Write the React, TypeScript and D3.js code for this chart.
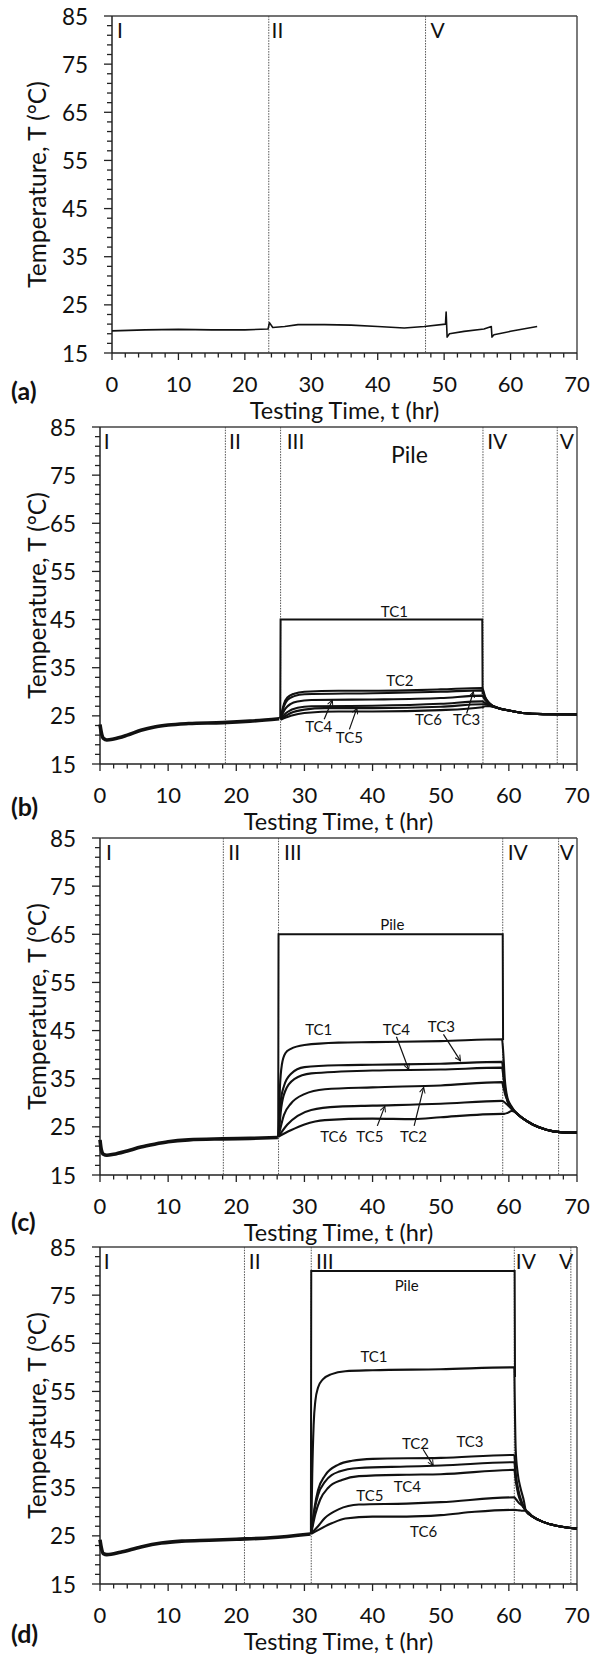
import React from 'react';
import * as d3 from 'd3';

type P = [number, number];

// ---------- axis ticks ----------
const xTicks = [0, 10, 20, 30, 40, 50, 60, 70];
const yTicks = [15, 25, 35, 45, 55, 65, 75, 85];
const xMinor = [0, 2, 4, 6, 8, 10, 12, 14, 16, 18, 20, 22, 24, 26, 28, 30, 32, 34, 36, 38, 40, 42, 44, 46, 48, 50, 52, 54, 56, 58, 60, 62, 64, 66, 68, 70];
const yMinor = [15, 17, 19, 21, 23, 25, 27, 29, 31, 33, 35, 37, 39, 41, 43, 45, 47, 49, 51, 53, 55, 57, 59, 61, 63, 65, 67, 69, 71, 73, 75, 77, 79, 81, 83, 85];

// ---------- panel (a) ----------
const seriesA: P[] = [[0, 19.6], [5, 19.8], [10, 19.9], [15, 19.8], [20, 19.8], [23.5, 20.0], [23.7, 21.3], [24.2, 20.3], [26, 20.5], [28, 20.9], [32, 20.9], [36, 20.8], [40, 20.5], [44, 20.2], [47, 20.5], [50.2, 21.0], [50.3, 23.5], [50.45, 18.3], [50.8, 19.0], [53, 19.5], [56, 20.0], [57.1, 20.5], [57.2, 18.3], [57.5, 18.8], [60, 19.5], [64, 20.5]];
const phasesA = [23.6, 47.2];
const phaseNamesA = ['I', 'II', 'V'];
const phaseLabelTA = [1.2, 24.9, 49];

// ---------- panel (b) ----------
const preB: P[] = [[0, 23.2], [0.2, 21.5], [0.5, 20.3], [1, 20.0], [2, 20.2], [4, 21.0], [6, 22.0], [8, 22.7], [10, 23.1], [13, 23.4], [18, 23.6], [22, 23.9], [26.3, 24.4]];
const postB: P[] = [[58.5, 26.6], [60, 26.1], [62, 25.6], [65, 25.35], [70, 25.3]];
const tc2B: P[] = [[26.5, 24.5], [27, 27.5], [27.5, 28.8], [28.5, 29.6], [30, 30.0], [35, 30.2], [40, 30.2], [45, 30.3], [50, 30.5], [56.1, 30.8], [56.5, 29.0], [57.2, 27.6]];
const tc3B: P[] = [[26.5, 24.5], [27, 27], [27.5, 28.3], [28.5, 29.1], [30, 29.5], [40, 29.7], [50, 30.0], [56.1, 30.3], [56.5, 28.8], [57.2, 27.5]];
const tc4B: P[] = [[26.5, 24.5], [27.2, 26.5], [28, 27.5], [29, 28.0], [31, 28.3], [40, 28.4], [50, 28.7], [56.1, 29.2], [56.5, 28.3], [57.2, 27.4]];
const tcxB: P[] = [[26.5, 24.4], [27.5, 25.8], [29, 26.7], [31, 27.0], [40, 27.1], [50, 27.5], [56.1, 28.0], [56.5, 27.7], [57.2, 27.2]];
const tc5B: P[] = [[26.5, 24.3], [28, 25.6], [30, 26.3], [33, 26.6], [40, 26.6], [50, 26.9], [56.1, 27.4], [56.5, 27.4], [57.2, 27.1]];
const tc6B: P[] = [[26.5, 24.2], [28, 25.0], [30, 25.6], [35, 25.9], [40, 25.9], [50, 26.2], [56.1, 26.8], [56.5, 27.0], [57.2, 27.0]];
const pileB: P[] = [[26.45, 24.4], [26.5, 45], [56.1, 45], [56.15, 29.5]];
const phasesB = [18.4, 26.5, 56.2, 67.1];
const phaseNamesB = ['I', 'II', 'III', 'IV', 'V'];
const phaseLabelTB = [1.0, 19.8, 28.7, 58.3, 68.5];

// ---------- panel (c) ----------
const preC: P[] = [[0, 22.3], [0.2, 20.2], [0.5, 19.3], [1, 19.1], [2, 19.3], [4, 20.0], [6, 20.8], [8, 21.4], [10, 21.9], [13, 22.3], [18, 22.5], [22, 22.6], [26.1, 22.8]];
const postC: P[] = [[61, 28.0], [62, 26.8], [63.5, 25.5], [65.5, 24.4], [67.5, 23.9], [70, 23.8]];
const tc1C: P[] = [[26.2, 23], [26.4, 33], [26.7, 38], [27.2, 40.3], [28, 41.2], [30, 42.0], [35, 42.5], [40, 42.6], [50, 42.8], [59, 43.2], [59.15, 41], [59.4, 35], [59.8, 31], [60.4, 29.2]];
const tc3C: P[] = [[26.2, 23], [26.5, 30], [27, 33.5], [28, 36], [30, 37.4], [35, 37.8], [40, 37.9], [50, 38.1], [59, 38.5], [59.15, 37], [59.4, 33.5], [59.8, 30.5], [60.4, 29.0]];
const tc4C: P[] = [[26.2, 23], [26.6, 29], [27.2, 32.5], [28.5, 34.9], [31, 36.1], [40, 36.7], [50, 36.9], [59, 37.3], [59.15, 36], [59.4, 33], [59.8, 30.3], [60.4, 28.9]];
const tc2C: P[] = [[26.2, 23], [27, 27.5], [28, 29.8], [30, 31.8], [33, 32.8], [40, 33.2], [50, 33.6], [59, 34.3], [59.15, 33.5], [59.5, 31.5], [60, 30], [60.4, 28.8]];
const tc5C: P[] = [[26.2, 23], [27.5, 25.5], [29, 27.3], [31, 28.5], [35, 29.2], [40, 29.4], [50, 29.8], [59, 30.4], [59.2, 30.3], [59.6, 29.8], [60, 29.3], [60.4, 28.7]];
const tc6C: P[] = [[26.2, 23], [28, 24.3], [30, 25.5], [33, 26.4], [40, 26.7], [46, 26.6], [50, 27.0], [59, 27.7], [59.3, 27.7], [59.8, 27.9], [60.4, 28.3]];
const pileC: P[] = [[26.15, 22.8], [26.2, 65], [59.1, 65], [59.15, 43]];
const phasesC = [18.1, 26.2, 59.1, 67.3];
const phaseNamesC = ['I', 'II', 'III', 'IV', 'V'];
const phaseLabelTC = [1.3, 19.7, 28.3, 61.3, 68.5];

// ---------- panel (d) ----------
const preD: P[] = [[0, 24.2], [0.2, 22.5], [0.5, 21.3], [1, 21.1], [3, 21.6], [6, 22.7], [9, 23.5], [12, 23.9], [16, 24.1], [20, 24.3], [25, 24.6], [30.9, 25.4]];
const postD: P[] = [[62.5, 30.2], [63.5, 29.0], [65, 27.9], [67, 27.1], [70, 26.5]];
const tc1D: P[] = [[31, 25.5], [31.15, 38], [31.35, 48], [31.6, 53], [32, 55.8], [32.7, 57.5], [34, 58.6], [36, 59.2], [40, 59.4], [50, 59.6], [60.8, 60.0], [60.85, 55], [61.0, 43], [61.3, 38], [61.7, 35], [62.2, 32.3]];
const tc3D: P[] = [[31, 25.5], [31.5, 31], [32, 34.5], [33, 37.5], [35, 39.8], [37, 40.6], [40, 41.0], [50, 41.2], [60.8, 41.8], [61, 38], [61.4, 34.5], [61.9, 32]];
const tc2D: P[] = [[31, 25.5], [31.5, 30.5], [32, 33.5], [33, 36.2], [35, 38.3], [38, 39.1], [45, 39.4], [50, 39.6], [60.8, 40.3], [61, 37.5], [61.4, 34], [61.9, 31.8]];
const tc4D: P[] = [[31, 25.5], [31.6, 29.5], [32.3, 32.5], [33.5, 35], [35.5, 36.6], [38, 37.4], [45, 37.7], [50, 37.8], [60.8, 38.7], [61, 36.5], [61.4, 33.5], [61.9, 31.7]];
const tc5D: P[] = [[31, 25.5], [32, 27], [33, 28.7], [35, 30.5], [38, 31.5], [45, 31.7], [50, 32.0], [60.8, 33.0], [61.1, 32.5], [61.5, 31.8], [62, 31.2]];
const tc6D: P[] = [[31, 25.4], [32, 26.2], [34, 27.6], [36, 28.6], [40, 29.0], [45, 29.0], [50, 29.3], [55, 30.0], [60.8, 30.4], [61.5, 30.3], [62, 30.2]];
const pileD: P[] = [[30.95, 25.4], [31.0, 80], [60.85, 80], [60.9, 58]];
const phasesD = [21.2, 31.0, 60.8, 69.1];
const phaseNamesD = ['I', 'II', 'III', 'IV', 'V'];
const phaseLabelTD = [1.0, 22.7, 33.0, 62.5, 68.4];

// ---------- annotations: [text, t, T, size] ----------
type Lab = [string, number, number, number];
type Arr = [number, number, number, number];
const labelsB: Lab[] = [['Pile', 45.4, 79.3, 23], ['TC1', 43.2, 46.7, 15], ['TC2', 44, 32.4, 15], ['TC4', 32.1, 22.8, 15], ['TC5', 36.6, 20.7, 15], ['TC6', 48.2, 24.3, 15], ['TC3', 53.8, 24.3, 15]];
const arrowsB: Arr[] = [[32.9, 24.3, 34.1, 28.3], [36.6, 22.2, 37.7, 26.6], [53.8, 25.5, 54.8, 30.0]];
const labelsC: Lab[] = [['Pile', 42.9, 67.2, 15], ['TC1', 32.1, 45.3, 15], ['TC4', 43.5, 45.3, 15], ['TC3', 50.1, 46.0, 15], ['TC6', 34.3, 23.1, 15], ['TC5', 39.6, 23.1, 15], ['TC2', 46.0, 23.1, 15]];
const arrowsC: Arr[] = [[43.5, 43.7, 45.3, 36.9], [50.4, 44.2, 52.9, 38.7], [40.7, 25.2, 41.8, 29.3], [46.1, 25.2, 47.5, 33.2]];
const labelsD: Lab[] = [['Pile', 45.0, 77.2, 15], ['TC1', 40.2, 62.3, 15], ['TC2', 46.3, 44.2, 15], ['TC3', 54.3, 44.6, 15], ['TC4', 45.1, 35.4, 15], ['TC5', 39.6, 33.5, 15], ['TC6', 47.5, 26.0, 15]];
const arrowsD: Arr[] = [[47.4, 43.0, 48.9, 39.6]];

const FONT = 'Lato, "Open Sans", sans-serif';
const INK = '#111';

type PanelProps = {
  top: number; left: number; letter: string; letterDy: number;
  series: P[][]; pre?: P[]; pile?: P[]; linear?: boolean; lineW: number;
  phases: number[]; phaseNames: string[]; phaseLabelT: number[];
  labels: Lab[]; arrows: Arr[];
};

const RIGHT = 577;
const PH = 337;

function Panel(p: PanelProps) {
  const x = d3.scaleLinear().domain([0, 70]).range([p.left, RIGHT]);
  const y = d3.scaleLinear().domain([15, 85]).range([p.top + PH, p.top]);
  const smooth = d3.line<P>().x(d => x(d[0])).y(d => y(d[1])).curve(p.linear ? d3.curveLinear : d3.curveMonotoneX);
  const lin = d3.line<P>().x(d => x(d[0])).y(d => y(d[1]));
  const bottom = p.top + PH;
  return (
    <g>
      {p.phases.map((t, i) => (
        <line key={'ph' + i} x1={x(t)} x2={x(t)} y1={p.top} y2={bottom} stroke="#555" strokeWidth={1} strokeDasharray="1.5 1.2" />
      ))}
      <line x1={p.left} x2={RIGHT} y1={p.top} y2={p.top} stroke="#444" strokeWidth={1.4} />
      <line x1={RIGHT} x2={RIGHT} y1={p.top} y2={bottom} stroke="#444" strokeWidth={1.4} />
      <line x1={p.left} x2={p.left} y1={p.top} y2={bottom} stroke="#222" strokeWidth={1.5} />
      <line x1={p.left} x2={RIGHT} y1={bottom} y2={bottom} stroke="#222" strokeWidth={1.5} />
      {xMinor.map(t => {
        const major = xTicks.includes(t);
        return <line key={'xm' + t} x1={x(t)} x2={x(t)} y1={bottom} y2={bottom + (major ? 7 : 4.5)} stroke="#222" strokeWidth={1.3} />;
      })}
      {yMinor.map(v => {
        const major = yTicks.includes(v);
        return <line key={'ym' + v} x1={p.left - (major ? 8 : 5)} x2={p.left} y1={y(v)} y2={y(v)} stroke="#222" strokeWidth={1.3} />;
      })}
      {xTicks.map(t => (
        <text key={'xl' + t} x={x(t)} y={bottom + 30} textAnchor="middle" dominantBaseline="central" fontSize={22} fontFamily={FONT} fill={INK}>{t}</text>
      ))}
      {yTicks.map(v => (
        <text key={'yl' + v} x={p.left - 24} y={y(v)} textAnchor="end" dominantBaseline="central" fontSize={22.5} fontFamily={FONT} fill={INK}>{v}</text>
      ))}
      {p.phaseNames.map((n, i) => (
        <text key={'pn' + i} x={x(p.phaseLabelT[i])} y={p.top + 13.5} textAnchor="middle" dominantBaseline="central" fontSize={21} fontFamily={FONT} fill={INK}>{n}</text>
      ))}
      {p.pile && <path d={lin(p.pile) || ''} fill="none" stroke={INK} strokeWidth={2} />}
      {p.pre && <path d={smooth(p.pre) || ''} fill="none" stroke={INK} strokeWidth={3.6} strokeLinejoin="round" />}
      {p.series.map((s, i) => (
        <path key={'s' + i} d={smooth(s) || ''} fill="none" stroke={INK} strokeWidth={p.lineW} strokeLinejoin="round" />
      ))}
      {p.labels.map((l, i) => (
        <text key={'lb' + i} x={x(l[1])} y={y(l[2])} textAnchor="middle" dominantBaseline="central" fontSize={l[3]} fontFamily={FONT} fill={INK}>{l[0]}</text>
      ))}
      {p.arrows.map((a, i) => (
        <line key={'ar' + i} x1={x(a[0])} y1={y(a[1])} x2={x(a[2])} y2={y(a[3])} stroke={INK} strokeWidth={1.2} markerEnd="url(#ah)" />
      ))}
      <text transform={`translate(36,${(p.top + bottom) / 2}) rotate(-90)`} textAnchor="middle" dominantBaseline="central" fontSize={24.5} fontFamily={FONT} fill={INK}>Temperature, T (°C)</text>
      <text x={(p.left + RIGHT) / 2} y={bottom + 56.5} textAnchor="middle" dominantBaseline="central" fontSize={23.5} fontFamily={FONT} fill={INK}>Testing Time, t (hr)</text>
      <text x={11} y={bottom + p.letterDy} dominantBaseline="central" fontSize={25} fontWeight={700} fontFamily={FONT} fill={INK}>{p.letter}</text>
    </g>
  );
}

export default function App() {
  const seriesB = [tc2B, tc3B, tc4B, tcxB, tc5B, tc6B].map(s => [...s, ...postB]);
  const seriesC = [tc1C, tc3C, tc4C, tc2C, tc5C, tc6C].map(s => [...s, ...postC]);
  const seriesD = [tc1D, tc3D, tc2D, tc4D, tc5D, tc6D].map(s => [...s, ...postD]);
  return (
    <div style={{ position: 'absolute', left: 0, top: 0 }}>
      <svg width={591} height={1654} viewBox="0 0 591 1654" style={{ display: 'block', background: '#fff' }}>
        <defs>
          <marker id="ah" viewBox="0 0 10 10" refX={9} refY={5} markerWidth={7} markerHeight={7} orient="auto" markerUnits="userSpaceOnUse">
            <path d="M1,1 L9,5 L1,9" fill="none" stroke={INK} strokeWidth={1.4} />
          </marker>
        </defs>
        <rect x={0} y={0} width={591} height={1654} fill="#fff" />
        <Panel top={16} left={112} letter="(a)" letterDy={37} series={[seriesA]} linear lineW={1.6}
          phases={phasesA} phaseNames={phaseNamesA} phaseLabelT={phaseLabelTA} labels={[]} arrows={[]} />
        <Panel top={427} left={100} letter="(b)" letterDy={42} series={seriesB} pre={preB} pile={pileB} lineW={2.1}
          phases={phasesB} phaseNames={phaseNamesB} phaseLabelT={phaseLabelTB} labels={labelsB} arrows={arrowsB} />
        <Panel top={838} left={100} letter="(c)" letterDy={46} series={seriesC} pre={preC} pile={pileC} lineW={2.1}
          phases={phasesC} phaseNames={phaseNamesC} phaseLabelT={phaseLabelTC} labels={labelsC} arrows={arrowsC} />
        <Panel top={1247} left={100} letter="(d)" letterDy={49} series={seriesD} pre={preD} pile={pileD} lineW={2.1}
          phases={phasesD} phaseNames={phaseNamesD} phaseLabelT={phaseLabelTD} labels={labelsD} arrows={arrowsD} />
      </svg>
    </div>
  );
}
